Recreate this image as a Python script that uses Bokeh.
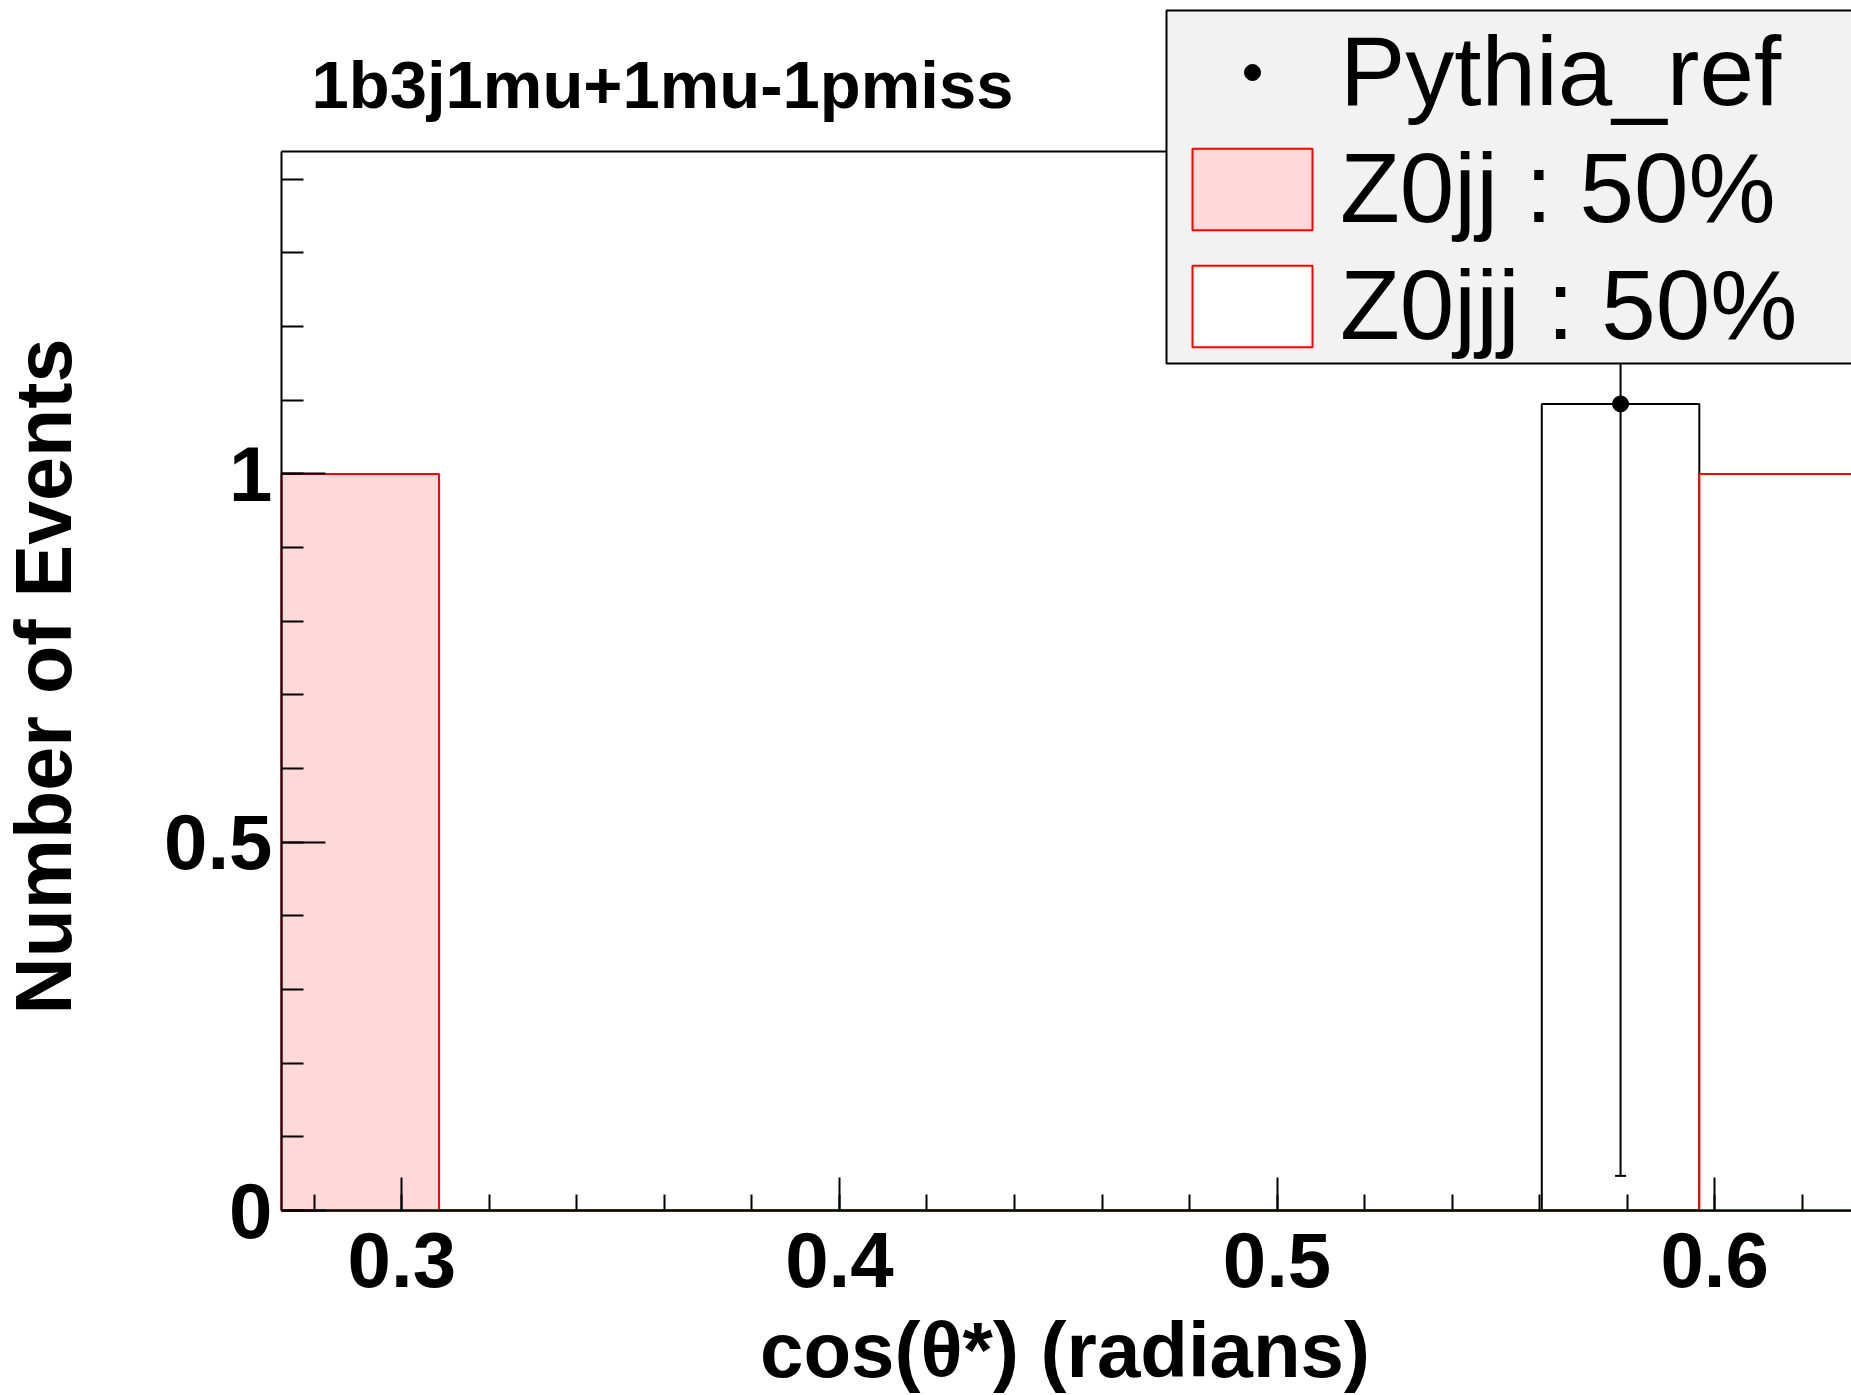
import math
from bokeh.plotting import figure
from bokeh.models import (Range1d, SingleIntervalTicker, LinearAxis, FixedTicker,
                          NumeralTickFormatter, Legend, LegendItem, BoxAnnotation,
                          ColumnDataSource, Label)
from bokeh.embed import file_html
from bokeh.resources import INLINE

# ---- data ----
bin_edges = [0.2725, 0.3085, 0.3445, 0.3805, 0.4165, 0.4525,
             0.4885, 0.5245, 0.5605, 0.5965, 0.6325]
z0jj_counts = [1, 0, 0, 0, 0, 0, 0, 0, 0, 0]
z0jjj_counts = [0, 0, 0, 0, 0, 0, 0, 0, 0, 1]
pythia_counts = [0, 0, 0, 0, 0, 0, 0, 0, 1.095, 0]
pythia_errors = [0, 0, 0, 0, 0, 0, 0, 0, 1.048, 0]
legend_labels = ["Pythia_ref", "Z0jj : 50%", "Z0jjj : 50%"]
title_text = "1b3j1mu+1mu-1pmiss"
x_label = "cos(θ*) (radians)"
y_label = "Number of Events"

# ---- layout constants (ROOT-like pad) ----
W, H = 1851, 1395
FONT = "Liberation Sans"
PINK = "#ffd9d9"
Y_AXIS_TOP = 1.4377          # top of the ROOT frame
PX_PER_X = 4376.0            # pixels per x unit
PX_PER_Y = 736.6             # pixels per y unit
FRAME_LEFT_PX = 281          # left edge of the ROOT frame
FRAME_BOTTOM_PX = 1210       # x-axis position (from top)

x_lo = bin_edges[0]
x_start = x_lo - FRAME_LEFT_PX / PX_PER_X
x_end = x_start + W / PX_PER_X
y_start = -(H - FRAME_BOTTOM_PX) / PX_PER_Y
y_end = FRAME_BOTTOM_PX / PX_PER_Y

lefts = bin_edges[:-1]
rights = bin_edges[1:]
centers = [(a + b) / 2 for a, b in zip(lefts, rights)]

p = figure(width=W, height=H, output_backend="svg", toolbar_location=None,
           title_location=None,
           x_range=Range1d(x_start, x_end), y_range=Range1d(y_start, y_end),
           x_axis_type=None, y_axis_type=None,
           min_border_left=0, min_border_right=0,
           min_border_top=0, min_border_bottom=0)
p.outline_line_color = None
p.background_fill_color = "white"
p.border_fill_color = "white"

def style_axis(ax):
    ax.axis_line_width = 2
    ax.axis_line_color = "black"
    ax.major_tick_out = 0
    ax.minor_tick_out = 0
    ax.major_tick_line_width = 2
    ax.minor_tick_line_width = 2
    ax.major_tick_line_color = "black"
    ax.minor_tick_line_color = "black"
    ax.major_label_text_font = FONT
    ax.major_label_text_font_style = "bold"
    ax.major_label_text_font_size = "78px"
    ax.major_label_text_color = "black"

xaxis = LinearAxis(ticker=SingleIntervalTicker(interval=0.1, num_minor_ticks=5),
                   formatter=NumeralTickFormatter(format="0.0"),
                   fixed_location=0, bounds=(x_lo, x_end + 0.05))
style_axis(xaxis)
xaxis.major_tick_in = 33
xaxis.minor_tick_in = 16
xaxis.major_label_standoff = 22
p.add_layout(xaxis, "below")

yaxis = LinearAxis(ticker=SingleIntervalTicker(interval=0.5, num_minor_ticks=5),
                   formatter=NumeralTickFormatter(format="0.[0]"),
                   fixed_location=x_lo, bounds=(0, Y_AXIS_TOP))
style_axis(yaxis)
yaxis.major_tick_in = 44
yaxis.minor_tick_in = 22
yaxis.major_label_standoff = 9
p.add_layout(yaxis, "left")

topaxis = LinearAxis(ticker=FixedTicker(ticks=[]), fixed_location=Y_AXIS_TOP,
                     bounds=(x_lo, x_end + 0.05))
topaxis.axis_line_width = 2
topaxis.axis_line_color = "black"
topaxis.major_tick_in = 0
topaxis.minor_tick_in = 0
topaxis.major_tick_out = 0
topaxis.minor_tick_out = 0
topaxis.major_label_text_font_size = "0px"
p.add_layout(topaxis, "above")

# histograms
p.quad(left=lefts, right=rights, bottom=0, top=pythia_counts,
       fill_color="white", line_color="black", line_width=2)
r_z0jj = p.quad(left=lefts, right=rights, bottom=0, top=z0jj_counts,
                fill_color=PINK, line_color="red", line_width=2)
r_z0jjj = p.quad(left=lefts, right=rights, bottom=0, top=z0jjj_counts,
                 fill_color="white", line_color="red", line_width=2)

# pythia points with error bars (clipped at the frame top, as ROOT does)
sel = [i for i, v in enumerate(pythia_counts) if v > 0]
src = ColumnDataSource(dict(
    x=[centers[i] for i in sel],
    y=[pythia_counts[i] for i in sel],
    lo=[pythia_counts[i] - pythia_errors[i] for i in sel],
    hi=[min(pythia_counts[i] + pythia_errors[i], Y_AXIS_TOP) for i in sel],
))
p.segment(x0="x", y0="lo", x1="x", y1="hi", source=src, line_color="black", line_width=2)
p.scatter(x="x", y="lo", source=src, marker="dash", size=11, line_color="black", line_width=2)
r_pts = p.scatter(x="x", y="y", source=src, marker="circle", size=16,
                  fill_color="black", line_color="black")

# texts: title and axis titles
p.add_layout(Label(x=311, y=H - 84, x_units="screen", y_units="screen",
                   text=title_text, text_font=FONT, text_font_size="67px",
                   text_font_style="bold", text_color="black",
                   text_align="left", text_baseline="alphabetic"))
p.add_layout(Label(x=1064.5, y=H - 1349, x_units="screen", y_units="screen",
                   text=x_label, text_font=FONT, text_font_size="78px",
                   text_font_style="bold", text_color="black",
                   text_align="center", text_baseline="alphabetic"))
p.add_layout(Label(x=43, y=H - 676, x_units="screen", y_units="screen",
                   text=y_label, text_font=FONT, text_font_size="79px",
                   text_font_style="bold", text_color="black", angle=math.pi / 2,
                   text_align="center", text_baseline="alphabetic"))

# legend background box
box = BoxAnnotation(left=1166, right=1900, top=10, bottom=363,
                    left_units="canvas", right_units="canvas",
                    top_units="canvas", bottom_units="canvas",
                    fill_color="#f2f2f2", fill_alpha=1.0,
                    line_color="black", line_width=2, line_alpha=1.0)
p.add_layout(box)

def make_legend(items, glyph_h, loc, spacing):
    return Legend(items=items, location=loc, orientation="vertical",
                  label_text_font=FONT, label_text_font_size="98px",
                  label_text_color="black", label_standoff=13,
                  glyph_width=150, glyph_height=glyph_h,
                  padding=0, margin=0, spacing=spacing,
                  border_line_color=None, background_fill_alpha=0.0)

legA = make_legend([LegendItem(label=legend_labels[0], renderers=[r_pts])],
                   40, (1177, H - 128), 0)
legB = make_legend([LegendItem(label=legend_labels[1], renderers=[r_z0jj]),
                    LegendItem(label=legend_labels[2], renderers=[r_z0jjj])],
                   102, (1177, H - 362), 4)
p.add_layout(legA)
p.add_layout(legB)

open("out.html", "w").write(file_html(p, INLINE))
